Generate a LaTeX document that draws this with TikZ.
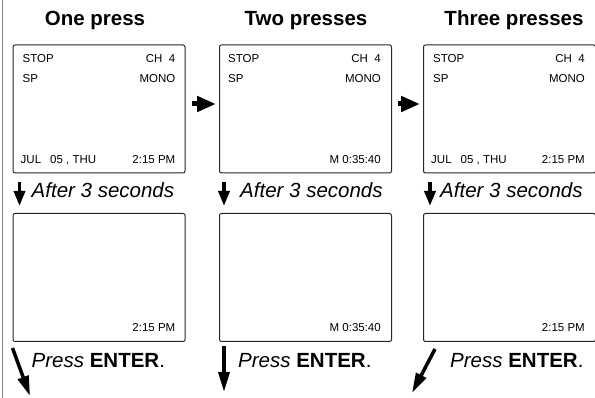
\documentclass[tikz,border=0pt]{standalone}
\usepackage{fontspec}
\setmainfont{Liberation Sans}
\usetikzlibrary{arrows.meta, calc}

\begin{document}
\begin{tikzpicture}[%
    x=1pt, y=-1pt,
    screen/.style={
      draw=black!85,
      line width=1pt,
      rounded corners=2pt,
      minimum width=172pt,
      minimum height=128pt,
      inner sep=0pt
    },
    lcd/.style={font=\fontsize{11.5}{12}\selectfont, inner sep=0pt},
    title/.style={font=\fontsize{20.5}{24}\selectfont\bfseries, inner sep=0pt, anchor=base},
    note/.style={font=\fontsize{20.5}{24}\selectfont, inner sep=0pt, anchor=base west},
    push/.style={-{Triangle[length=19pt,width=15pt]}, line width=5pt},
    down/.style={-{Triangle[length=15pt,width=11pt]}, line width=3.5pt},
    enter/.style={-{Triangle[length=20pt,width=11pt]}, line width=3.5pt}]
    \useasboundingbox (0,0) rectangle (595,398);
    \draw[black!50, line width=1pt] (2.5,0) -- (2.5,398);

    % screens
    \node[screen] at (99,109) (s1) {};
    \node[screen] at (305.5,109) (s2) {};
    \node[screen] at (509.5,109) (s3) {};
    \node[screen] at (99,277.5) (b1) {};
    \node[screen] at (305.5,277.5) (b2) {};
    \node[screen] at (509.5,277.5) (b3) {};

    \node[title] at (95,26) (t1) {One press};
    \node[title] at (306,26) (t2) {Two presses};
    \node[title] at (514,26) (t3) {Three presses};

    % one press
    \node[lcd, anchor=base west] at ($(s1.north west)+(10,18)$) (s1stop) {STOP};
    \node[lcd, anchor=base east] at ($(s1.north east)+(-10,18)$) (s1ch) {CH\ \ 4};
    \node[lcd, anchor=base west] at ($(s1.north west)+(10,38)$) (s1sp) {SP};
    \node[lcd, anchor=base east] at ($(s1.north east)+(-10,38)$) (s1mono) {MONO};
    \node[lcd, anchor=base west] at ($(s1.south west)+(8,-10)$) (s1date) {JUL\hspace{9pt}05 , THU};
    \node[lcd, anchor=base east] at ($(s1.south east)+(-10,-10)$) (s1time) {2:15 PM};
    \node[lcd, anchor=base east] at ($(b1.south east)+(-10,-10)$) (b1time) {2:15 PM};

    % two presses
    \node[lcd, anchor=base west] at ($(s2.north west)+(9,18)$) (s2stop) {STOP};
    \node[lcd, anchor=base east] at ($(s2.north east)+(-11,18)$) (s2ch) {CH\ \ 4};
    \node[lcd, anchor=base west] at ($(s2.north west)+(9,38)$) (s2sp) {SP};
    \node[lcd, anchor=base east] at ($(s2.north east)+(-11,38)$) (s2mono) {MONO};
    \node[lcd, anchor=base east] at ($(s2.south east)+(-11,-10)$) (s2count) {M 0:35:40};
    \node[lcd, anchor=base east] at ($(b2.south east)+(-11,-10)$) (b2count) {M 0:35:40};

    % three presses
    \node[lcd, anchor=base west] at ($(s3.north west)+(10,18)$) (s3stop) {STOP};
    \node[lcd, anchor=base east] at ($(s3.north east)+(-11,18)$) (s3ch) {CH\ \ 4};
    \node[lcd, anchor=base west] at ($(s3.north west)+(10,38)$) (s3sp) {SP};
    \node[lcd, anchor=base east] at ($(s3.north east)+(-11,38)$) (s3mono) {MONO};
    \node[lcd, anchor=base west] at ($(s3.south west)+(8,-10)$) (s3date) {JUL\hspace{9pt}05 , THU};
    \node[lcd, anchor=base east] at ($(s3.south east)+(-11,-10)$) (s3time) {2:15 PM};
    \node[lcd, anchor=base east] at ($(b3.south east)+(-11,-10)$) (b3time) {2:15 PM};

    % presses
    \draw[push, shorten <=6pt, shorten >=3pt] ([yshift=5pt]s1.east) -- ([yshift=5pt]s2.west);
    \draw[push, shorten <=6pt, shorten >=3pt] ([yshift=5pt]s2.east) -- ([yshift=5pt]s3.west);

    % after 3 seconds
    \draw[down, shorten <=9pt, shorten >=7pt] ([xshift=7pt]s1.south west) -- ([xshift=7pt]b1.north west);
    \draw[down, shorten <=9pt, shorten >=7pt] ([xshift=5pt]s2.south west) -- ([xshift=5pt]b2.north west);
    \draw[down, shorten <=9pt, shorten >=7pt] ([xshift=7pt]s3.south west) -- ([xshift=7pt]b3.north west);
    \node[note] at ($(s1.south west)+(19,24)$) (a1) {\itshape After 3 seconds};
    \node[note] at ($(s2.south west)+(21,24)$) (a2) {\itshape After 3 seconds};
    \node[note] at ($(s3.south west)+(17,24)$) (a3) {\itshape After 3 seconds};

    % press enter
    \coordinate (e1) at (30,396);
    \coordinate (e2) at (224,392);
    \coordinate (e3) at (412,393);
    \draw[enter] ([yshift=-6pt]b1.south west) -- (e1);
    \draw[enter] ([xshift=5pt,yshift=-4pt]b2.south west) -- (e2);
    \draw[enter] ([xshift=12pt,yshift=-7pt]b3.south west) -- (e3);
    \node[note] at ($(b1.south west)+(19,25)$) (p1) {\itshape Press \upshape\textbf{ENTER}.};
    \node[note] at ($(b2.south west)+(19,25)$) (p2) {\itshape Press \upshape\textbf{ENTER}.};
    \node[note] at ($(b3.south west)+(27,25)$) (p3) {\itshape Press \upshape\textbf{ENTER}.};
\end{tikzpicture}
\end{document}
